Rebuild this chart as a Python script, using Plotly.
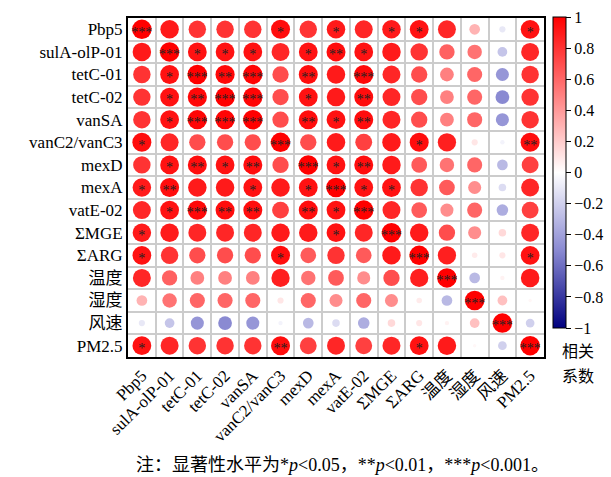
import numpy as np
import plotly.graph_objects as go

labels = ["Pbp5", "sulA-olP-01", "tetC-01", "tetC-02", "vanSA", "vanC2/vanC3",
          "mexD", "mexA", "vatE-02", "ΣMGE", "ΣARG", "温度", "湿度", "风速", "PM2.5"]

# upper triangle of the correlation matrix (row i, columns i+1..14)
upper_r = [
    [0.90, 0.80, 0.80, 0.80, 0.95, 0.80, 0.90, 0.85, 0.90, 0.93, 0.85, 0.30, -0.10, 0.93],
    [0.93, 0.93, 0.93, 0.85, 0.93, 0.95, 0.93, 0.90, 0.80, 0.62, 0.55, -0.25, 0.85],
    [0.97, 0.98, 0.70, 0.95, 0.90, 0.97, 0.85, 0.70, 0.50, 0.60, -0.45, 0.80],
    [0.98, 0.70, 0.93, 0.90, 0.95, 0.85, 0.70, 0.50, 0.60, -0.50, 0.80],
    [0.70, 0.95, 0.93, 0.95, 0.85, 0.70, 0.50, 0.60, -0.45, 0.80],
    [0.70, 0.90, 0.75, 0.90, 0.95, 0.88, 0.10, -0.05, 0.95],
    [0.93, 0.95, 0.90, 0.65, 0.55, 0.60, -0.30, 0.75],
    [0.93, 0.93, 0.80, 0.65, 0.45, -0.15, 0.85],
    [0.85, 0.65, 0.45, 0.60, -0.35, 0.75],
    [0.90, 0.70, 0.45, 0.15, 0.85],
    [0.88, 0.08, 0.10, 0.93],
    [-0.30, 0.05, 0.90],
    [0.25, 0.03],
    [-0.20],
]

# significance marks for the upper triangle ("" = none)
upper_sig = [
    ["", "", "", "", "*", "", "*", "", "*", "*", "", "", "", "*"],
    ["*", "*", "*", "", "*", "**", "*", "", "", "", "", "", ""],
    ["**", "***", "", "**", "", "***", "", "", "", "", "", ""],
    ["***", "", "*", "", "**", "", "", "", "", "", ""],
    ["", "**", "*", "**", "", "", "", "", "", ""],
    ["", "", "", "", "*", "", "", "", "**"],
    ["*", "**", "", "", "", "", "", ""],
    ["*", "*", "", "", "", "", ""],
    ["", "", "", "", "", ""],
    ["", "", "", "", ""],
    ["", "", "", "*"],
    ["", "", ""],
    ["", ""],
    [""],
]

colorbar_title = ["相关", "系数"]

n = len(labels)
R = np.eye(n)
S = [["***" if i == j else "" for j in range(n)] for i in range(n)]
for i in range(n - 1):
    for k, (v, s) in enumerate(zip(upper_r[i], upper_sig[i])):
        j = i + 1 + k
        R[i, j] = R[j, i] = v
        S[i][j] = S[j][i] = s

xs, ys, vals, marks = [], [], [], []
for i in range(n):
    for j in range(n):
        xs.append(j)
        ys.append(i)
        vals.append(R[i, j])
        marks.append(S[i][j])
vals = np.array(vals)
sizes = 19.5 * np.sqrt(np.abs(vals))

colorscale = [[0.0, "#00007F"], [0.25, "#8A8AD2"], [0.5, "#FFFFFF"],
              [0.75, "#FF8080"], [1.0, "#FF0000"]]

serif = "Liberation Serif, Times New Roman, Noto Sans CJK SC"

fig = go.Figure()
fig.add_trace(go.Scatter(
    x=xs, y=ys, mode="markers",
    marker=dict(size=sizes, color=vals, cmin=-1, cmax=1, colorscale=colorscale,
                line=dict(width=0), opacity=1,
                colorbar=dict(
                    thickness=13, lenmode="pixels", len=311,
                    x=(553 - 128) / 416, xanchor="left", xpad=0,
                    y=(357 - 17) / 339, yanchor="top", ypad=0,
                    outlinewidth=1, outlinecolor="black",
                    tickvals=[1, 0.8, 0.6, 0.4, 0.2, 0, -0.2, -0.4, -0.6, -0.8, -1],
                    ticktext=["1", "0.8", "0.6", "0.4", "0.2", "0", "−0.2", "−0.4",
                              "−0.6", "−0.8", "−1"],
                    ticks="outside", ticklen=5, tickcolor="black",
                    tickfont=dict(family=serif, size=16, color="black"),
                )),
    hoverinfo="skip", showlegend=False,
))
sx = [x for x, m in zip(xs, marks) if m]
sy = [y + 0.17 for y, m in zip(ys, marks) if m]
st = [m for m in marks if m]
fig.add_trace(go.Scatter(
    x=sx, y=sy, mode="text", text=st, textposition="middle center",
    textfont=dict(family=serif, size=14, color="#222222"),
    hoverinfo="skip", showlegend=False,
))

fig.update_xaxes(
    range=[-0.5, n - 0.5], tickvals=list(range(n)), ticktext=labels,
    tickangle=-45, tickfont=dict(family=serif, size=17, color="black"),
    showgrid=False, zeroline=False, ticks="", automargin=False,
    showline=True, linecolor="black", linewidth=2, mirror=True,
    minor=dict(tickmode="linear", tick0=-0.5, dtick=1, showgrid=True,
               gridcolor="#CCCCCC", gridwidth=1.5),
)
fig.update_yaxes(
    range=[n - 0.5, -0.5], tickvals=list(range(n)), ticktext=labels,
    tickfont=dict(family=serif, size=17, color="black"),
    showgrid=False, zeroline=False, ticks="", automargin=False,
    showline=True, linecolor="black", linewidth=2, mirror=True,
    minor=dict(tickmode="linear", tick0=-0.5, dtick=1, showgrid=True,
               gridcolor="#CCCCCC", gridwidth=1.5),
)

for txt, py in zip(colorbar_title, [350, 375]):
    fig.add_annotation(
        text=txt, xref="paper", yref="paper",
        x=(578 - 128) / 416, y=(357 - py) / 339, xanchor="center", yanchor="middle",
        showarrow=False,
        font=dict(family="Noto Sans CJK SC", size=16, color="black"),
    )
fig.add_annotation(
    text="注：显著性水平为*<i>p</i>&lt;0.05，**<i>p</i>&lt;0.01，***<i>p</i>&lt;0.001。",
    xref="paper", yref="paper",
    x=(342 - 128) / 416, y=(357 - 465) / 339, xanchor="center", yanchor="middle",
    showarrow=False,
    font=dict(family="Liberation Serif, Noto Sans CJK SC", size=18, color="black"),
)

fig.update_layout(
    width=611, height=477,
    margin=dict(l=128, r=67, t=18, b=120, autoexpand=False),
    plot_bgcolor="white", paper_bgcolor="white",
)

fig.write_html("out.html", config={"displayModeBar": False},
               post_script="document.body.style.margin='0';document.body.style.overflow='hidden';")
